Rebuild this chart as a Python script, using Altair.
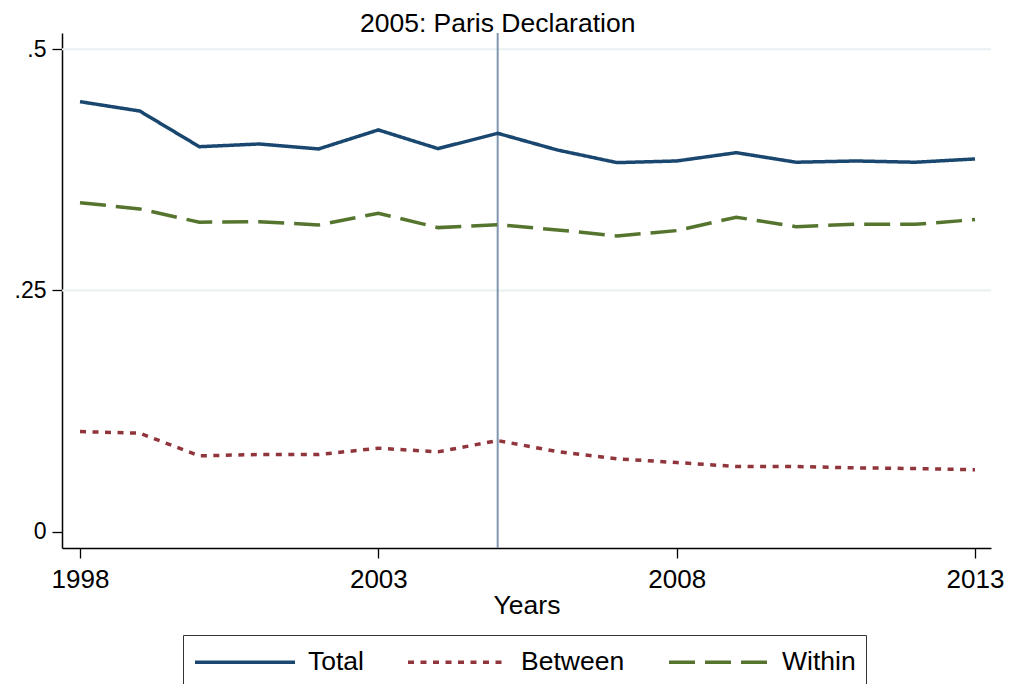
import altair as alt
import pandas as pd

# Decomposition of the index into between- and within-group components
years = list(range(1998, 2014))
total = [0.4457, 0.4360, 0.3990, 0.4018, 0.3967, 0.4164, 0.3970, 0.4129,
         0.3956, 0.3825, 0.3842, 0.3928, 0.3829, 0.3842, 0.3829, 0.3863]
between = [0.1036, 0.1020, 0.0785, 0.0798, 0.0798, 0.0864, 0.0826, 0.0943,
           0.0829, 0.0754, 0.0715, 0.0674, 0.0674, 0.0660, 0.0653, 0.0640]
within = [0.3410, 0.3345, 0.3207, 0.3213, 0.3179, 0.3300, 0.3151, 0.3182,
          0.3127, 0.3065, 0.3120, 0.3259, 0.3161, 0.3186, 0.3186, 0.3234]

series_names = ["Total", "Between", "Within"]
series_colors = ["#1a476f", "#90353b", "#55752f"]
series_dashes = [[1, 0], [6, 6.5], [26, 10]]

event_year = [2005]
event_label = ["2005: Paris Declaration"]
grid_values = [0.25, 0.5]
x_ticks = [1998, 2003, 2008, 2013]
y_ticks = [0, 0.25, 0.5]

FONT = "Liberation Sans"
W, H = 929, 515

rows = []
for name, vals in zip(series_names, [total, between, within]):
    for yr, v in zip(years, vals):
        rows.append({"year": yr, "value": v, "series": name})
df = pd.DataFrame(rows)

x_scale = alt.Scale(domain=[1997.698, 2013.268], nice=False, zero=False)
y_scale = alt.Scale(domain=[-0.0171, 0.5169], nice=False, zero=False)

x_axis = alt.Axis(values=x_ticks, format="d", title="Years",
                  labelFontSize=26, titleFontSize=26.5,
                  labelFont=FONT, titleFont=FONT,
                  labelColor="black", titleColor="black",
                  titleFontWeight="normal",
                  tickSize=10, tickColor="black", tickWidth=1.3,
                  domainColor="black", domainWidth=1.5,
                  labelPadding=8, titlePadding=0, grid=False,
                  labelFlush=False)
y_axis = alt.Axis(values=y_ticks, title=None,
                  labelExpr="datum.value == 0 ? '0' : replace(format(datum.value, '.2~f'), '0.', '.')",
                  labelFontSize=23, labelFont=FONT, labelColor="black",
                  tickSize=10, tickColor="black", tickWidth=1.3,
                  domainColor="black", domainWidth=1.5,
                  labelPadding=6, grid=False, labelFlush=False)

# legend key: a 100px horizontal stroke drawn from the left of the symbol box
legend = alt.Legend(
    title=None, orient="none", legendX=121, legendY=602,
    direction="horizontal", symbolType="M-1,0H5.667", symbolSize=900,
    symbolStrokeWidth=3.5, labelFontSize=26.5, labelFont=FONT,
    labelColor="black", labelOffset=81, columnPadding=37, padding=10,
    strokeColor="#333333",
)

grid = alt.Chart(pd.DataFrame({"value": grid_values})).mark_rule(
    color="#e8f0f2", strokeWidth=2
).encode(
    y=alt.Y("value:Q", scale=y_scale, axis=y_axis),
    x=alt.value(0), x2=alt.value(W),
)

vline = alt.Chart(pd.DataFrame({"year": event_year})).mark_rule(
    color="#7f95b0", strokeWidth=2
).encode(
    x=alt.X("year:Q", scale=x_scale, axis=x_axis),
    y=alt.value(0), y2=alt.value(H),
)

label = alt.Chart(pd.DataFrame({"year": event_year, "t": event_label})).mark_text(
    font=FONT, fontSize=26.5, color="black", baseline="alphabetic", align="center"
).encode(
    x=alt.X("year:Q", scale=x_scale, axis=x_axis),
    y=alt.value(-1.5),
    text="t:N",
)

lines = alt.Chart(df).mark_line(strokeWidth=3.5).encode(
    x=alt.X("year:Q", scale=x_scale, axis=x_axis),
    y=alt.Y("value:Q", scale=y_scale, axis=y_axis),
    color=alt.Color("series:N", scale=alt.Scale(domain=series_names, range=series_colors),
                    legend=legend),
    strokeDash=alt.StrokeDash("series:N", scale=alt.Scale(domain=series_names, range=series_dashes),
                              legend=legend),
)

chart = alt.layer(grid, vline, lines, label).properties(
    width=W, height=H,
    autosize=alt.AutoSizeParams(type="none"),
    padding={"left": 62, "top": 33, "right": 20, "bottom": 136},
    background="white",
).configure_view(strokeWidth=0)

chart.save("out.html", embed_options={"renderer": "svg", "actions": False})
